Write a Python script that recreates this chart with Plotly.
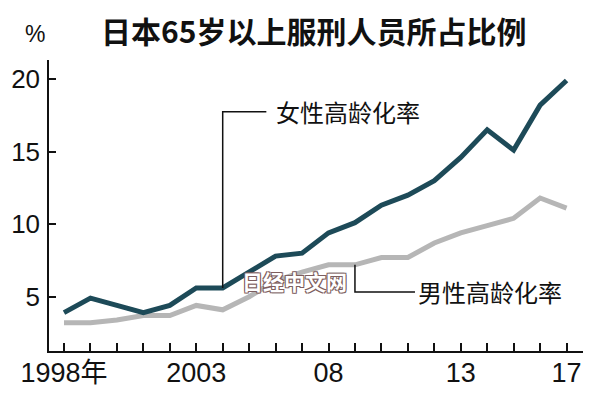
import plotly.graph_objects as go

years = list(range(1998, 2018))
female = [3.9, 4.9, 4.4, 3.9, 4.4, 5.6, 5.6, 6.7, 7.8, 8.0, 9.4, 10.1, 11.3, 12.0, 13.0, 14.6, 16.5, 15.1, 18.2, 19.9]
male = [3.2, 3.2, 3.4, 3.7, 3.7, 4.4, 4.1, 5.0, 6.1, 6.7, 7.2, 7.2, 7.7, 7.7, 8.7, 9.4, 9.9, 10.4, 11.8, 11.1]
x_labels = {1998: "1998年", 2003: "2003", 2008: "08", 2013: "13", 2017: "17"}
y_ticks = [5, 10, 15, 20]
title = "日本65岁以上服刑人员所占比例"
female_name = "女性高龄化率"
male_name = "男性高龄化率"

NUM_FONT = "Liberation Sans Narrow, Arial Narrow, Liberation Sans, Noto Sans CJK SC, sans-serif"
CJK_FONT = "Noto Sans CJK SC, sans-serif"

fig = go.Figure()
fig.add_trace(go.Scatter(x=years, y=male, mode="lines",
                         line=dict(color="#b6b6b6", width=5), hoverinfo="skip"))
fig.add_trace(go.Scatter(x=years, y=female, mode="lines",
                         line=dict(color="#1d4a58", width=5), hoverinfo="skip"))

fi = years.index(2004)
mi = years.index(2009)
f_label_y = 17.75
m_label_y = 5.33
f_elbow_x = 2005.65
m_elbow_x = 2011.27

# leader lines
fig.add_shape(type="path",
              path=f"M {years[fi]},{female[fi]} L {years[fi]},{f_label_y} L {f_elbow_x},{f_label_y}",
              line=dict(color="#111111", width=1.5), xref="x", yref="y")
fig.add_shape(type="path",
              path=f"M {years[mi]},{male[mi]} L {years[mi]},{m_label_y} L {m_elbow_x},{m_label_y}",
              line=dict(color="#111111", width=1.5), xref="x", yref="y")

fig.add_annotation(x=f_elbow_x + 0.3, y=f_label_y, text=female_name, showarrow=False,
                   xanchor="left", yanchor="middle",
                   font=dict(family=CJK_FONT, size=24, color="#111111"))
fig.add_annotation(x=m_elbow_x + 0.05, y=m_label_y, text=male_name, showarrow=False,
                   xanchor="left", yanchor="middle",
                   font=dict(family=CJK_FONT, size=24, color="#111111"))

# page body has an 8px default margin: shrink the figure so it fits the window
OFF = 8
W, H = 600 - OFF, 399 - OFF
L, R, T, B = 49 - OFF, 17, 60 - OFF, 48
pw, ph = W - L - R, H - T - B

def px(x, y):
    return (x - OFF - L) / pw, 1 - (y - OFF - T) / ph

# watermark
wx, wy = px(294, 281)
fig.add_annotation(x=wx, y=wy, xref="paper", yref="paper", text="日经中文网", showarrow=False,
                   xanchor="center", yanchor="middle",
                   font=dict(family=CJK_FONT, size=21, color="#ffffff", weight="bold",
                             shadow="1px 1px 0 #7d5e5e, -1px -1px 0 #7d5e5e, 1px -1px 0 #7d5e5e, -1px 1px 0 #7d5e5e"))

# title and unit
tx, ty = px(313, 30)
fig.add_annotation(x=tx, y=ty, xref="paper", yref="paper", text=title, showarrow=False,
                   xanchor="center", yanchor="middle",
                   font=dict(family=CJK_FONT, size=30, color="#111111", weight="bold"))
ux, uy = px(35, 34)
fig.add_annotation(x=ux, y=uy, xref="paper", yref="paper", text="%", showarrow=False,
                   xanchor="center", yanchor="middle",
                   font=dict(family=NUM_FONT, size=23, color="#111111"))

fig.update_layout(
    width=W, height=H, margin=dict(l=L, r=R, t=T, b=B, pad=0),
    paper_bgcolor="white", plot_bgcolor="white", showlegend=False,
    xaxis=dict(range=[1997.433, 2017.622], tickvals=years,
               ticktext=[x_labels.get(y, "") for y in years], automargin=False,
               ticks="inside", ticklen=8, tickwidth=1.5, tickcolor="#111111",
               ticklabelstandoff=-3,
               showline=True, linecolor="#111111", linewidth=1.5, showgrid=False, zeroline=False,
               tickfont=dict(family=NUM_FONT, size=27, color="#111111")),
    yaxis=dict(range=[1.26, 21.31], tickvals=y_ticks, automargin=False,
               ticks="inside", ticklen=7, tickwidth=1.5, tickcolor="#111111",
               ticklabelstandoff=2,
               showline=True, linecolor="#111111", linewidth=1.5, showgrid=False, zeroline=False,
               tickfont=dict(family=NUM_FONT, size=26, color="#111111")),
)
fig.write_html("out.html")
